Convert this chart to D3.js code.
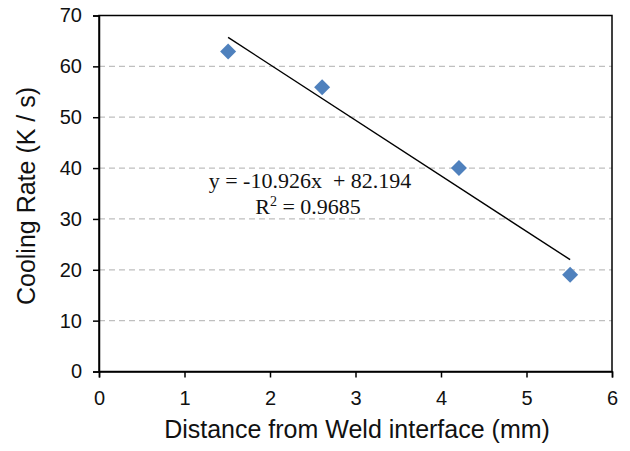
<!DOCTYPE html>
<html><head><meta charset="utf-8">
<script src="https://cdn.jsdelivr.net/npm/d3@7"></script>
<style>body{margin:0;background:#fff}svg{display:block}</style>
</head><body><svg id="c" width="630" height="451"></svg>
<script>
const xValues = [1.51, 2.61, 4.21, 5.51];
const yValues = [62.9, 55.9, 40.0, 19.0];
const xTicks = [0,1,2,3,4,5,6];
const yTicks = [0,10,20,30,40,50,60,70];
const slope = -10.926, intercept = 82.194;
const eqText = "y = -10.926x\u00a0\u00a0+ 82.194";
const r2Value = "0.9685";

const svg = d3.select("#c");
const m = {l:99, t:15.5, r:612, b:371.5};
const x = d3.scaleLinear().domain([0,6]).range([m.l, m.r]);
const y = d3.scaleLinear().domain([0,70]).range([m.b, m.t]);

// gridlines
svg.append("g").selectAll("line").data(yTicks.filter(d=>d>0&&d<70)).join("line")
  .attr("x1", m.l).attr("x2", m.r).attr("y1", d=>y(d)).attr("y2", d=>y(d))
  .attr("stroke", "#bfbfbf").attr("stroke-width", 1.3).attr("stroke-dasharray", "6,4");

// frame
svg.append("rect").attr("x", m.l).attr("y", m.t).attr("width", m.r-m.l).attr("height", m.b-m.t)
  .attr("fill","none").attr("stroke","#000").attr("stroke-width",1.5);

const font = "Liberation Sans, Arial, sans-serif";
const xa = svg.append("g").attr("transform", `translate(0,${m.b})`)
  .call(d3.axisBottom(x).tickValues(xTicks).tickSize(6).tickPadding(13).tickFormat(d3.format("d")));
const ya = svg.append("g").attr("transform", `translate(${m.l},0)`)
  .call(d3.axisLeft(y).tickValues(yTicks).tickSize(6).tickPadding(11).tickFormat(d3.format("d")));
[xa, ya].forEach(a=>{
  a.select(".domain").attr("stroke","#000").attr("stroke-width",1.5);
  a.selectAll(".tick line").attr("stroke","#000").attr("stroke-width",1.5);
  a.selectAll(".tick text").attr("font-family", font).attr("font-size", 20).attr("fill","#111");
});

// trendline
svg.append("line")
  .attr("x1", x(d3.min(xValues))).attr("y1", y(slope*d3.min(xValues)+intercept))
  .attr("x2", x(d3.max(xValues))).attr("y2", y(slope*d3.max(xValues)+intercept))
  .attr("stroke","#000").attr("stroke-width",1.4);

// points
const pts = xValues.map((v,i)=>[v, yValues[i]]);
svg.append("g").selectAll("path").data(pts).join("path")
  .attr("transform", d=>`translate(${x(d[0])},${y(d[1])})`)
  .attr("d", "M0,-8L8,0L0,8L-8,0Z")
  .attr("fill", "#4f81bd");

// equation
const serif = "Liberation Serif, DejaVu Serif, serif";
svg.append("text").attr("x", 310).attr("y", 188).attr("text-anchor","middle")
  .attr("font-family",serif).attr("font-size",22).attr("fill","#111").text(eqText);
const r2 = svg.append("text").attr("x", 308).attr("y", 214).attr("text-anchor","middle")
  .attr("font-family",serif).attr("font-size",22).attr("fill","#111");
r2.append("tspan").text("R");
r2.append("tspan").attr("dy",-8).attr("font-size",14).text("2");
r2.append("tspan").attr("dy",8).text(" = " + r2Value);

// axis titles
svg.append("text").attr("x", 357).attr("y", 438).attr("text-anchor","middle")
  .attr("font-family", font).attr("font-size", 25).attr("fill","#111").text("Distance from Weld interface (mm)");
svg.append("text").attr("transform", `translate(35,196) rotate(-90)`).attr("text-anchor","middle")
  .attr("font-family", font).attr("font-size", 25).attr("fill","#111").text("Cooling Rate (K / s)");
</script></body></html>
